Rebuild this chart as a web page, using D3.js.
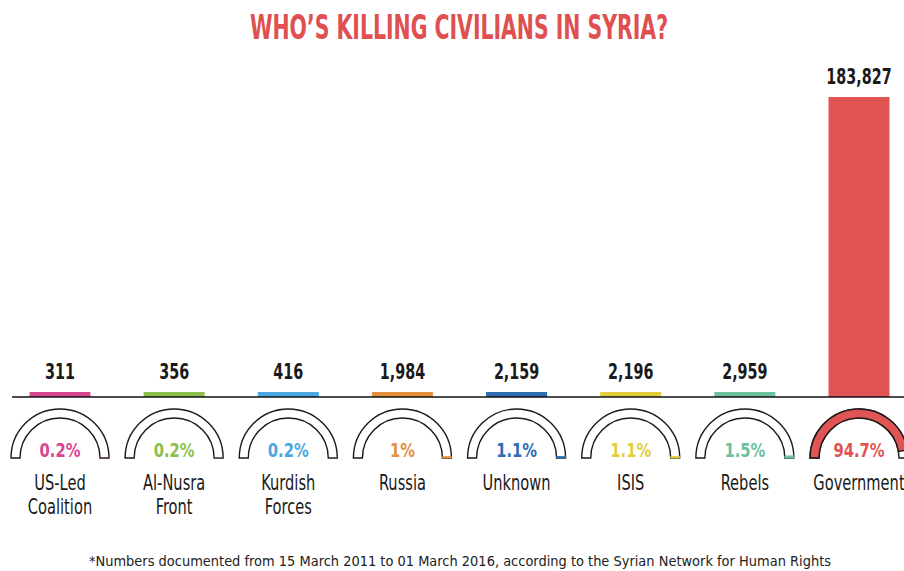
<!DOCTYPE html>
<html>
<head>
<meta charset="utf-8">
<script src="https://cdn.jsdelivr.net/npm/d3@7"></script>
<style>
  body { margin: 0; background: #fff; }
  svg text { font-family: "Liberation Sans Narrow", "DejaVu Sans Condensed", "DejaVu Sans", sans-serif; }
</style>
</head>
<body>
<div id="chart"></div>
<script>
'use strict';

// data
const groups = ['US-Led Coalition', 'Al-Nusra Front', 'Kurdish Forces', 'Russia', 'Unknown', 'ISIS', 'Rebels', 'Government'];
const labelLines = [['US-Led', 'Coalition'], ['Al-Nusra', 'Front'], ['Kurdish', 'Forces'], ['Russia'], ['Unknown'], ['ISIS'], ['Rebels'], ['Government']];
const deaths = [311, 356, 416, 1984, 2159, 2196, 2959, 183827];
const shares = [0.2, 0.2, 0.2, 1, 1.1, 1.1, 1.5, 94.7];
const colors = ['#d8468f', '#8cbf4e', '#4aa8e0', '#e38f3c', '#2e6db4', '#e3cd3b', '#6cc19f', '#e05454'];
const title = 'WHO\u2019S KILLING CIVILIANS IN SYRIA?';
const footnote = '*Numbers documented from 15 March 2011 to 01 March 2016, according to the Syrian Network for Human Rights';

const width = 904, height = 571;
const baseY = 397;
const squeeze = 0.74;  // condensed look

const svg = d3.select('#chart').append('svg')
    .attr('width', width)
    .attr('height', height);

const x = d3.scalePoint()
    .domain(groups)
    .range([60, 859]);
const y = d3.scaleLinear()
    .domain([0, d3.max(deaths)])
    .range([baseY, 97]);
const barW = 61;
const fmt = d3.format(',');

// title
svg.append('text')
    .attr('x', 459).attr('y', 39)
    .attr('text-anchor', 'middle')
    .attr('fill', '#e05050')
    .style('font-weight', 'bold')
    .style('font-size', '34px')
    .attr('textLength', 418)
    .attr('lengthAdjust', 'spacingAndGlyphs')
    .text(title);

// bars
const rows = groups.map((g, i) => ({ g, i, v: deaths[i], s: shares[i], c: colors[i] }));
const barTop = d => Math.min(y(d.v), baseY - 5);

svg.append('g').selectAll('rect')
    .data(rows)
    .join('rect')
    .attr('x', d => x(d.g) - barW / 2)
    .attr('width', barW)
    .attr('y', barTop)
    .attr('height', d => baseY - barTop(d))
    .attr('fill', d => d.c);

svg.append('g').selectAll('text')
    .data(rows)
    .join('text')
    .attr('transform', d => `translate(${x(d.g)},${barTop(d) - 13}) scale(0.76,1)`)
    .attr('text-anchor', 'middle')
    .attr('fill', '#1a1a1a')
    .style('font-weight', 'bold')
    .style('font-size', '21px')
    .text(d => fmt(d.v));

// baseline
svg.append('line')
    .attr('x1', 12).attr('x2', width)
    .attr('y1', baseY).attr('y2', baseY)
    .attr('stroke', '#111')
    .attr('stroke-width', 1.6);

// gauges
const gy = 458, rOut = 49, rIn = 40;
const ring = d3.arc().innerRadius(rIn).outerRadius(rOut);
const half = Math.PI / 2;
const sweep = d3.scaleLinear().domain([0, 100]).range([0, Math.PI]);
// big share grows from the left end, small ones from the right end
const fillArc = d => d.s > 50
    ? { startAngle: -half, endAngle: -half + sweep(d.s) }
    : { startAngle: half - sweep(d.s), endAngle: half };

const gauge = svg.append('g').selectAll('g')
    .data(rows)
    .join('g')
    .attr('transform', d => `translate(${x(d.g)},${gy})`);

gauge.append('path')
    .attr('d', ring({ startAngle: -half, endAngle: half }))
    .attr('fill', '#fff')
    .attr('stroke', '#1a1a1a')
    .attr('stroke-width', 1.4);

gauge.append('path')
    .attr('d', d => ring(fillArc(d)))
    .attr('fill', d => d.c)
    .attr('stroke', d => d.s > 50 ? '#1a1a1a' : d.c)
    .attr('stroke-width', d => d.s > 50 ? 1.4 : (d.s >= 1 ? 0.8 : 0));

gauge.append('text')
    .attr('transform', 'translate(0,-1) scale(0.82,1)')
    .attr('text-anchor', 'middle')
    .attr('fill', d => d.c)
    .style('font-weight', 'bold')
    .style('font-size', '20px')
    .text(d => d.s + '%');

gauge.append('text')
    .attr('transform', `scale(${squeeze},1)`)
    .attr('text-anchor', 'middle')
    .attr('fill', '#1a1a1a')
    .style('font-size', '22px')
    .selectAll('tspan')
    .data(d => labelLines[d.i])
    .join('tspan')
    .attr('x', 0)
    .attr('y', (l, j) => 32 + j * 24)
    .text(l => l);

// footnote
svg.append('text')
    .attr('x', 460).attr('y', 566)
    .attr('text-anchor', 'middle')
    .attr('fill', '#222')
    .style('font-size', '14px')
    .attr('textLength', 742)
    .attr('lengthAdjust', 'spacingAndGlyphs')
    .text(footnote);
</script>
</body>
</html>
